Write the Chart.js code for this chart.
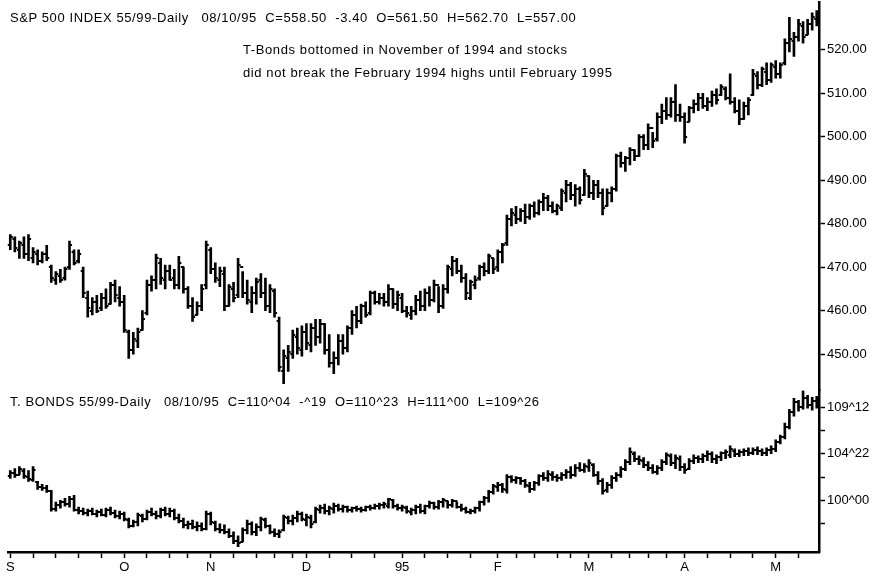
<!DOCTYPE html>
<html><head><meta charset="utf-8">
<script src="https://cdn.jsdelivr.net/npm/chart.js@4.4.1/dist/chart.umd.min.js"></script>
<style>
html,body{margin:0;padding:0;background:#fff;}
#wrap{position:relative;width:882px;height:580px;overflow:hidden;background:#fff;}
#c{position:absolute;left:0;top:0;}
.t{position:absolute;font-family:"Liberation Sans",Arial,sans-serif;font-size:13px;letter-spacing:0.6px;color:#000;white-space:pre;line-height:1;}
</style></head><body>
<div id="wrap">
<canvas id="c" width="882" height="580"></canvas>
<div class="t" style="left:10px;top:11px">S&amp;P 500 INDEX 55/99-Daily   08/10/95  C=558.50  -3.40  O=561.50  H=562.70  L=557.00</div>
<div class="t" style="left:243px;top:43px">T-Bonds bottomed in November of 1994 and stocks</div>
<div class="t" style="left:243px;top:66px">did not break the February 1994 highs until February 1995</div>
<div class="t" style="left:10px;top:395px">T. BONDS 55/99-Daily   08/10/95  C=110^04  -^19  O=110^23  H=111^00  L=109^26</div>
</div>
<script>
// ---- data ----
const monthLabels = ['S','O','N','D','95','F','M','A','M'];
const monthStarts = [0,25,44,65,86,107,127,148,168];
const weekTicks = [0,5,10,15,20,25,30,35,39,44,49,54,58,62,65,70,75,80,86,91,96,101,107,111,115,120,123,127,132,136,140,144,148,153,158,163,168,173];
const spxTickValues = [450,460,470,480,490,500,510,520];
const tbTickValues = [97.65625,100,102.34375,104.6875,107.03125,109.375];
const tbLabelled = [100,104.6875,109.375];

const spxHigh = [477.5,477,476,477,477.5,474.5,474,473.5,475,470.5,
469,469.5,470,476,474,474,470,464.5,463,463.5,
464,465,466.5,467,465.5,463.5,455.5,455,456,460,
467,468,473,472,470.5,470.5,469.5,472.5,470,465.5,
463,462,466,476,474.5,471,470,470,466,466.5,
472,469,467,465.5,467.5,468.5,467.5,466,465,458.5,
451,452,455.5,456,456.5,457,457,458,458,457,
454.5,450.5,454.5,454.5,456.5,460,461,461.5,462,464.5,
464.5,464,464,466,465,464.5,464,461,461,463.5,
464.5,465,465.5,467,465.5,466,470.5,472.5,472,470.5,
468.5,467,468,470.5,471,473,472,474,475.5,482,
483.5,484,483.5,484.5,484.5,485,485.5,487,486.5,485,
484.5,488,490,489.5,489,488.5,492.5,491,490,490,
488,488,488.5,496,496.5,495.5,497.5,497,500.5,500.5,
503,501,505.5,507.5,509,509,512,507.5,505.5,507,
508.5,510,510,509,510.5,511,512,511.5,514.5,509,
508.5,508,509,515.5,515,516,517,517,517.5,517,
522.5,527.5,524,527,526.5,527,528.5,529];
const spxLow = [474,473.5,472,472,471.5,471,470.5,471,471.5,466.5,
466,466.5,467,469.5,470.5,471,463,458.5,459,459.5,
460,460.5,461.5,462,461,455,449,450,451.5,455.5,
459,464.5,465,466,465,467,465,465,464,460.5,
457.5,459,460,465,468.5,466.5,465.5,460,461,462,
463,463,461.5,459.5,461.5,463,460,459.5,458.5,446,
443.2,446,449,450,449.5,451,450.5,452,452.5,450,
447,445.5,447.5,450,450.5,454.5,456,457,458.5,459,
461.5,461.5,461,461,460.5,460,459.5,458.5,458,459,
460,460,461,462,459.5,460.5,464,468,468.5,466.5,
462.5,462.5,465,467,468,468.5,468.5,469,471,475,
479.5,480,480.5,480,481,481.5,482,483,483,482.5,
482,483,485,485.5,484,484.5,486.5,486,485.5,486,
482,484,485,487.5,493,492,493.5,494.5,495.5,497,
497,497.5,499,503,504,504.5,503.5,503.5,498.5,503.5,
505.5,506,506.5,506,507,507.5,509.5,508.5,507.5,505.5,
502.8,504,505,509.5,511,511.5,512,512.5,513.5,513.5,
516.5,519.5,518.5,522,521.5,523.5,524.5,525.5];
const spxOpen = [475,476.5,474,475,473,472,473,471.5,473,470,
467,468,467.5,470,473.5,471.5,469,463,460,462,
460.5,463,461.5,466,463,462,455,451,453,455.5,
459.5,466,467,471,467,469,467.5,466,470,465,
461,459,461,466,474,469.5,467,468.5,461,465,
463.5,470,464,462,464,467,464,461,464.5,457.5,
446,449,450,454,451,455,452,456,454,457,
451,448,449,453,451.5,456,459,457.5,461,459.5,
464,462,463,462,465,461.5,463,460,459,460,
462.5,461,464,462.5,466,461,465,469.5,471.5,469,
467.5,463,466,467.5,470,469,472,470,473.5,475.5,
481,482,481,483,481.5,484,482.5,485,486,484,
483,483.5,487,489,486.5,488,486.5,491,487,489,
487,484,487,488,495.5,494,495,497,495.5,500,
498,502,499.5,504.5,506,505,508,505,504.5,503.5,
506.5,507.5,509,507,508,509.5,509.5,511,509,508,
506,504,507,509.5,514,512,515,513,516,514.5,
517,521.5,522,523,525.5,523.5,526,527];
const spxClose = [477,474.5,475.5,473,476.5,473.5,471.5,473,472,467.5,
468.5,467,469.5,475,471,473,464,460.5,462,460,
463,461,466,463.5,462,455.5,451,453.5,455,458,
466,467,472,467.5,469,467,466,471,465,461,
458.5,461,465,475,469.5,467.5,469,461,465.5,463,
470.5,464,462.5,464,466.5,464,461,465,459.5,447,
449.5,450.5,454.5,451.5,455,452.5,456,454,457,451,
448,449,453,451.5,456,459,457.5,461,459,464,
462,463,462,465,461.5,463.5,460,459.5,460,462.5,
461,464,462.5,466,461,465,470,471.5,469,467.5,
464,466.5,467,470,469,472.5,469.5,473.5,475,481,
482.5,481,483,481.5,484,482.5,485,486,484,483,
484,487.5,489,486.5,488,485.5,491.5,487,489,487,
483.5,487,488,495.5,494,495,497,495.5,500,498,
502,499,504.5,506,505,508,505,504.5,500,506.5,
507.5,509,507,508,509.5,508.5,511.5,509,508,506,
504,507,508.5,514.5,512,515.5,513,516.5,514.5,516.5,
521.5,522.5,523,526,523,526,527.5,528];

const tbHigh = [103,103.2,103.4,103.2,103,103.4,101.9,101.6,101.5,101,
99.8,100,100.2,100.4,100.5,99.3,99.2,99.1,99.2,99,
99.1,99.2,99.3,99,98.9,98.8,98.2,98,98.7,98.6,
99,99.2,98.9,99.2,99.3,99.2,99.1,98.6,98.2,97.9,
98,97.8,97.7,98.9,98.8,97.9,97.6,97.5,97.1,96.8,
96.4,97.2,98,97.8,97.6,98.3,98.2,97.5,97.1,97,
98.5,98.4,98.5,98.9,98.8,98.6,98.5,99.3,99.5,99.6,
99.4,99.7,99.6,99.5,99.4,99.3,99.4,99.3,99.4,99.5,
99.6,99.7,99.8,100.2,100.1,99.6,99.5,99.4,99.2,99.5,
99.6,99.5,99.9,99.8,100,100.2,99.9,100.1,99.8,99.6,
99.3,99.1,99.3,99.9,100.4,101,101.6,101.8,101.7,102.6,
102.5,102.4,102.3,102.1,101.8,101.9,102.6,102.8,103,102.9,
102.6,102.8,103.1,103.4,103.6,103.8,103.7,104.1,103.7,102.9,
102.2,101.8,102.5,102.8,103.4,104.1,105.3,104.9,104.5,104.3,
103.9,103.6,103.5,104.1,104.8,104.7,104.6,104.5,103.7,104.2,
104.6,104.5,104.7,105,104.9,104.6,104.9,105.1,105.5,105.2,
105.1,105.2,105.3,105.3,105.4,105.2,105.3,105.5,106.1,106.6,
107.8,109.2,110.3,110.1,111.1,110.6,110.4,110.5];
const tbLow = [102.2,102.3,102.6,102.2,101.9,101.9,101.1,101,100.8,98.9,
98.9,99.2,99.4,99.3,98.9,98.6,98.5,98.4,98.5,98.3,
98.4,98.3,98.5,98.2,98.1,97.9,97.2,97.3,97.4,97.8,
98,98.4,98.1,98.2,98.4,98.3,98,97.7,97.2,97.1,
97.1,96.9,96.9,97,97.5,96.9,96.7,96.6,96.2,95.6,
95.3,95.8,96.6,96.5,96.4,96.9,97.2,96.6,96.3,96.2,
96.9,97.6,97.5,97.8,97.9,97.4,97.2,97.7,98.7,98.6,
98.5,98.7,98.9,98.8,98.8,98.8,98.9,98.8,98.9,99,
99.1,99.1,99.2,99.2,99.2,99,98.9,98.7,98.5,98.6,
98.7,98.6,99.2,99.1,99.1,99.3,99.2,99.3,99.2,98.9,
98.7,98.6,98.7,98.9,99.5,99.8,100.6,100.9,100.8,100.7,
101.8,101.7,101.6,101.3,100.8,101,101.5,102,101.9,102,
101.9,102,102.2,102.2,102.4,102.9,102.8,102.9,102.4,101.6,
100.6,100.8,101.2,101.9,102.3,103,103.6,103.9,103.6,103.3,
103,102.7,102.6,103,103.6,103.5,103.2,103,102.7,103.1,
103.7,103.8,103.8,104,103.8,103.7,104,104.2,104.3,104.4,
104.4,104.5,104.5,104.6,104.6,104.5,104.5,104.7,104.9,105.7,
106.2,107.2,108.5,109,109.2,109.3,109.1,109.3];
const tbOpen = [102.4,102.8,102.6,103,102.3,102,101.8,101.3,101.2,100.9,
99.1,99.5,99.8,99.6,100.1,99,98.9,98.7,98.9,98.6,
98.8,98.5,99,98.7,98.4,98.6,98,97.4,97.8,98.4,
98.1,98.8,98.6,98.4,99,98.6,98.9,98.2,97.9,97.5,
97.6,97.3,97.4,97.1,98.6,97.7,97.1,97,96.8,96.4,
95.9,95.8,97,97.6,96.8,97.3,98,97.4,96.8,96.6,
97,98.2,97.9,98.2,98.6,98,98.2,97.8,99,99.2,
98.9,99.1,99.4,99.1,99.3,99,99.2,99.1,99,99.3,
99.2,99.4,99.5,99.4,100,99.4,99.2,99.2,98.8,99,
99.3,98.9,99.4,99.7,99.3,99.8,99.9,99.5,99.9,99.3,
99.1,98.8,98.9,99.2,99.8,100.2,100.8,101.3,101.5,101,
102.3,102,102.2,101.9,101.4,101.1,101.7,102.4,102.2,102.6,
102.3,102.2,102.5,102.9,102.5,103.3,103.1,103.4,103.6,102.6,
101.9,101,101.5,102.2,102.6,103.2,103.9,104.7,104.2,104,
103.6,103.3,102.9,103.3,103.9,104.5,103.8,104.2,103.4,103.2,
104,104.3,104.2,104.5,104.7,104.2,104.4,104.8,104.6,105,
104.7,104.9,105,104.8,105.1,105,104.8,105.1,105.2,105.9,
106.4,107.4,108.9,109.9,109.4,110.3,109.6,110];
const tbClose = [102.8,102.5,103.2,102.4,102.1,103.1,101.3,101.2,100.9,99.1,
99.5,99.8,99.6,100.1,99,98.9,98.7,98.9,98.6,98.8,
98.5,99,98.7,98.4,98.6,98.1,97.4,97.8,98.5,98.1,
98.8,98.6,98.4,99,98.6,98.9,98.2,97.9,97.5,97.6,
97.3,97.4,97.1,98.6,97.8,97.1,97,96.8,96.4,95.9,
95.7,97,97.6,96.8,97.3,98.1,97.4,96.8,96.6,96.8,
98.3,97.9,98.2,98.6,98.1,98.3,97.6,99.1,99.2,98.9,
99.2,99.4,99.1,99.3,99,99.2,99.1,99,99.3,99.2,
99.4,99.5,99.6,100.1,99.4,99.2,99.3,98.9,99,99.3,
98.9,99.4,99.7,99.3,99.8,100,99.5,99.9,99.3,99.1,
98.8,98.9,99.2,99.8,100.2,100.8,101.4,101.5,101.1,102.3,
102,102.2,101.9,101.5,101.1,101.7,102.4,102.2,102.7,102.3,
102.2,102.6,102.9,102.5,103.3,103.1,103.5,103.8,102.6,101.9,
100.9,101.5,102.2,102.6,103.2,103.9,104.9,104.2,104.1,103.6,
103.3,102.9,103.3,103.9,104.6,103.8,104.3,103.4,103.1,104,
104.3,104.2,104.5,104.7,104.2,104.4,104.8,104.9,105.2,104.7,
104.9,105,104.8,105.1,105,104.8,105.1,105.2,105.9,106.4,
107.4,108.9,109.9,109.4,110.3,109.6,110,110.1];

const days = spxHigh.map((_, i) => String(i));

// ---- point images for open (left) and close (right) ticks ----
function tickImg(side){
  const c = document.createElement('canvas');
  c.width = 7; c.height = 2;
  const g = c.getContext('2d');
  g.fillStyle = '#000';
  if (side === 'L') g.fillRect(1,0,3,2); else g.fillRect(3,0,3,2);
  return c;
}
const openImg = tickImg('L'), closeImg = tickImg('R');

function fmt32(v){
  const whole = Math.floor(v + 1e-9);
  const n = Math.round((v - whole) * 32);
  return whole + '^' + String(n).padStart(2,'0');
}

Chart.defaults.font.family = '"Liberation Sans", Arial, sans-serif';
Chart.defaults.color = '#000';

const barBase = {type:'bar', backgroundColor:'#000', borderWidth:0, barThickness:2, grouped:false};
const pt = {type:'line', showLine:false, pointRadius:2, pointHoverRadius:2, borderWidth:0};
const noPadY = s => { s.width = 63; s.paddingTop = 0; s.paddingBottom = 0; };

new Chart(document.getElementById('c'), {
  data: {
    labels: days,
    datasets: [
      Object.assign({}, barBase, {label:'SPX', yAxisID:'y', data: spxLow.map((l,i)=>[l, spxHigh[i]])}),
      Object.assign({}, pt, {label:'SPX open', yAxisID:'y', data: spxOpen, pointStyle: openImg}),
      Object.assign({}, pt, {label:'SPX close', yAxisID:'y', data: spxClose, pointStyle: closeImg}),
      Object.assign({}, barBase, {label:'TB', yAxisID:'y2', data: tbLow.map((l,i)=>[l, tbHigh[i]])}),
      Object.assign({}, pt, {label:'TB open', yAxisID:'y2', data: tbOpen, pointStyle: openImg}),
      Object.assign({}, pt, {label:'TB close', yAxisID:'y2', data: tbClose, pointStyle: closeImg})
    ]
  },
  options: {
    responsive:false, animation:false, devicePixelRatio:1,
    events: [],
    layout: {padding:{left:8, right:0, top:0, bottom:0}},
    plugins: {legend:{display:false}, tooltip:{enabled:false}, title:{display:false}},
    scales: {
      x: {
        type:'category', position:'bottom', offset:true,
        afterFit: s => { s.height = 28; s.paddingLeft = 0; s.paddingRight = 0; },
        ticks: {autoSkip:false, maxRotation:0, minRotation:0, padding:2, font:{size:13},
          callback: (v, i) => { const k = monthStarts.indexOf(i); return k >= 0 ? monthLabels[k] : ''; }},
        grid: {offset:false, drawOnChartArea:false, drawTicks:true, tickLength:6, tickWidth:1.5,
          tickColor: c => weekTicks.includes(c.index) ? '#000' : 'rgba(0,0,0,0)'},
        border: {display:true, color:'#000', width:2.5}
      },
      y: {
        type:'linear', position:'right', stack:'v', stackWeight:390, min:441.6, max:531,
        afterBuildTicks: s => { s.ticks = spxTickValues.map(v => ({value:v})); },
        afterFit: noPadY,
        ticks: {autoSkip:false, padding:2, font:{size:13}, callback: v => Number(v).toFixed(2)},
        grid: {drawOnChartArea:false, drawTicks:true, tickLength:6, tickWidth:1.5, tickColor:'#000'},
        border: {display:true, color:'#000', width:2.5}
      },
      y2: {
        type:'linear', position:'right', stack:'v', stackWeight:162, min:94.76, max:111.09,
        afterBuildTicks: s => { s.ticks = tbTickValues.map(v => ({value:v})); },
        afterFit: noPadY,
        ticks: {autoSkip:false, padding:2, font:{size:13}, callback: v => tbLabelled.includes(v) ? fmt32(v) : ''},
        grid: {drawOnChartArea:false, drawTicks:true, tickLength:6, tickWidth:1.5, tickColor:'#000'},
        border: {display:true, color:'#000', width:2.5}
      }
    }
  }
});
</script>
</body></html>
